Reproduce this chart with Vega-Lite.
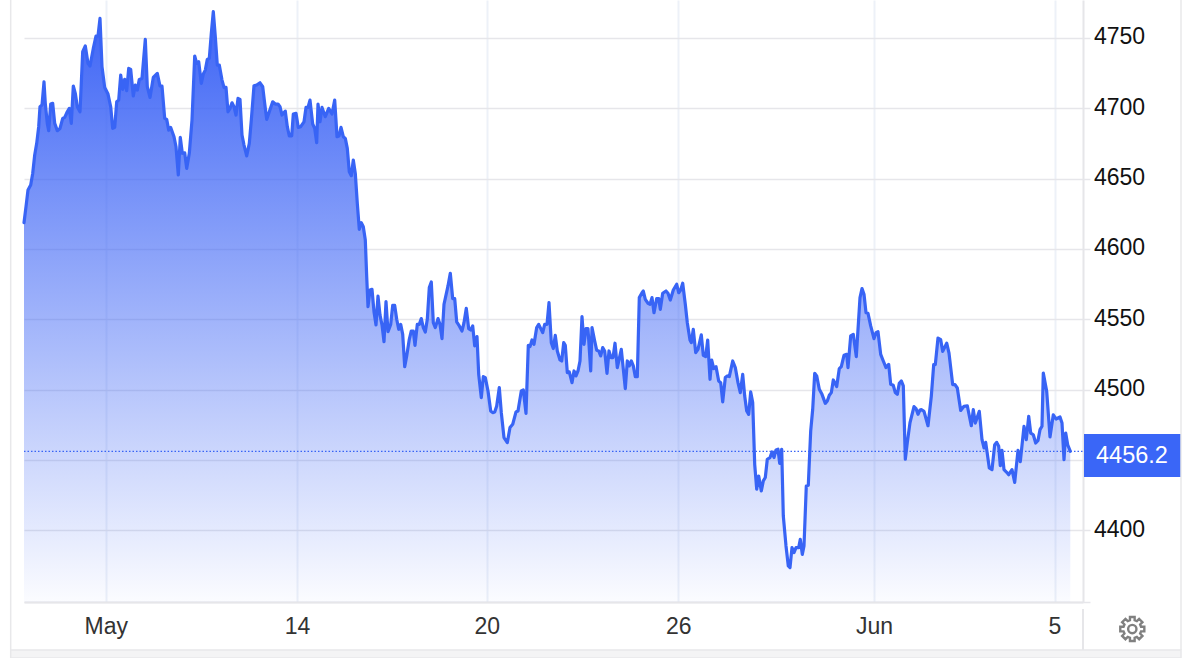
{"$schema":"https://vega.github.io/schema/vega-lite/v6.json","width":1059,"height":602,"autosize":"none","padding":{"left":24,"top":0,"right":117,"bottom":56},"background":"white","view":{"stroke":null},
"datasets":{"last":[{"price":4456.2}],"gold":[
{"t":0,"price":4618.6},{"t":2,"price":4630},{"t":4,"price":4641.8},{"t":6.7,"price":4645.4},{"t":8.7,"price":4653.6},{"t":10.7,"price":4666.7},{"t":12.7,"price":4675},{"t":14.7,"price":4686.8},{"t":16,"price":4701},{"t":18,"price":4702.2},{"t":20,"price":4718.7},{"t":21.3,"price":4703.4},{"t":23.3,"price":4689.2},{"t":24.7,"price":4684},{"t":26.7,"price":4702.9},{"t":28.7,"price":4703.4},{"t":30.7,"price":4689.2},{"t":33.3,"price":4684},{"t":36,"price":4685.6},{"t":38.7,"price":4692.7},{"t":40.7,"price":4693.4},{"t":43.3,"price":4697.4},{"t":45.3,"price":4699.8},{"t":47.3,"price":4689.2},{"t":49.3,"price":4715.7},{"t":51.3,"price":4710.5},{"t":53.3,"price":4701},{"t":56,"price":4697.4},{"t":58.7,"price":4740.1},{"t":61.3,"price":4744.1},{"t":64,"price":4731.8},{"t":66,"price":4729.9},{"t":69.3,"price":4742.4},{"t":72,"price":4751.2},{"t":74,"price":4751.2},{"t":76,"price":4763.7},{"t":78,"price":4729.4},{"t":80.7,"price":4714.7},{"t":84,"price":4710},{"t":86.7,"price":4701},{"t":88.7,"price":4685.6},{"t":90.7,"price":4686.3},{"t":92.7,"price":4704.5},{"t":94.7,"price":4705.7},{"t":96.7,"price":4723.5},{"t":98.7,"price":4713.3},{"t":100.7,"price":4720.4},{"t":102.7,"price":4712.4},{"t":104.7,"price":4728.2},{"t":106.7,"price":4727.5},{"t":109.3,"price":4708.6},{"t":111.3,"price":4716.4},{"t":113.3,"price":4712.8},{"t":115.3,"price":4720.4},{"t":118,"price":4721.1},{"t":121.3,"price":4748.8},{"t":123.3,"price":4715.2},{"t":126,"price":4707.6},{"t":129.3,"price":4721.8},{"t":133.3,"price":4724.7},{"t":136,"price":4715.7},{"t":138,"price":4715.7},{"t":140.7,"price":4692.7},{"t":142.7,"price":4692},{"t":144.7,"price":4684.4},{"t":146.7,"price":4686.3},{"t":150,"price":4679.7},{"t":152,"price":4672.6},{"t":154.3,"price":4652.5},{"t":156.3,"price":4679.2},{"t":158.3,"price":4667.9},{"t":160.7,"price":4668.3},{"t":162.7,"price":4657.2},{"t":165.3,"price":4667.9},{"t":168,"price":4691.5},{"t":170.7,"price":4737},{"t":172.7,"price":4731.8},{"t":174.7,"price":4733},{"t":177.3,"price":4717.6},
{"t":179.3,"price":4724.2},{"t":181.3,"price":4727},{"t":183.3,"price":4734.6},{"t":185.3,"price":4735.3},{"t":187.3,"price":4753.1},{"t":189.3,"price":4768.5},{"t":191.3,"price":4750.7},{"t":193.3,"price":4730.6},{"t":195.3,"price":4730.6},{"t":198,"price":4719.9},{"t":200,"price":4714.7},{"t":202,"price":4714.7},{"t":204,"price":4697.4},{"t":206,"price":4699.8},{"t":208,"price":4703.8},{"t":210,"price":4701},{"t":212,"price":4695.1},{"t":214,"price":4706.9},{"t":216,"price":4706.2},{"t":218,"price":4680.9},{"t":220,"price":4673.8},{"t":222.7,"price":4666},{"t":225.3,"price":4675},{"t":227.3,"price":4691.5},{"t":230,"price":4715.9},{"t":232.7,"price":4716.4},{"t":236,"price":4718},{"t":238.7,"price":4715.2},{"t":240.7,"price":4703.4},{"t":242.7,"price":4692},{"t":245.3,"price":4697.4},{"t":248.7,"price":4704.5},{"t":251.3,"price":4702.9},{"t":254,"price":4702.9},{"t":256,"price":4701},{"t":258,"price":4695.1},{"t":261.3,"price":4697.9},{"t":263.3,"price":4686.8},{"t":265.3,"price":4680.2},{"t":267.7,"price":4680.2},{"t":269.3,"price":4695.8},{"t":272,"price":4696.3},{"t":274.3,"price":4686.3},{"t":276.7,"price":4686.8},{"t":280,"price":4690.3},{"t":282,"price":4700.5},{"t":284,"price":4700.5},{"t":286,"price":4705.7},{"t":288.7,"price":4688.7},{"t":290.7,"price":4685.6},{"t":292.7,"price":4675.4},{"t":294,"price":4702.9},{"t":296,"price":4690.3},{"t":298,"price":4700.5},{"t":301.3,"price":4693.9},{"t":304.7,"price":4699.8},{"t":308,"price":4695.8},{"t":310.7,"price":4705.7},{"t":313,"price":4679.7},{"t":315,"price":4680.2},{"t":317,"price":4686.3},{"t":319.3,"price":4679.7},{"t":321.3,"price":4678.5},{"t":323.3,"price":4671.4},{"t":325.3,"price":4654.8},{"t":327.3,"price":4652},{"t":329.3,"price":4663.1},{"t":331.3,"price":4653.6},{"t":333.3,"price":4632.3},{"t":335.3,"price":4613.9},{"t":337.3,"price":4618.6},{"t":339.3,"price":4615.8},{"t":341.3,"price":4606.3},{"t":342.7,"price":4580.3},{"t":344,"price":4559},{"t":346,"price":4570.8},{"t":348,"price":4571.3},{"t":350,"price":4555.4},{"t":352,"price":4546},{"t":354,"price":4566.5},{"t":356,"price":4553},{"t":358,"price":4546},{"t":360,"price":4534.1},{"t":362,"price":4562.5},{"t":364,"price":4541.2},
{"t":366.7,"price":4546.4},{"t":368.7,"price":4559.9},{"t":370.7,"price":4559.9},{"t":372.7,"price":4550},{"t":374.7,"price":4542.9},{"t":376.7,"price":4546.4},{"t":378.7,"price":4539.3},{"t":380.7,"price":4516.4},{"t":382.7,"price":4524},{"t":385.3,"price":4535.8},{"t":387.3,"price":4541.7},{"t":389.3,"price":4541.7},{"t":391,"price":4531.5},{"t":393.3,"price":4546.4},{"t":395.3,"price":4546.4},{"t":397.3,"price":4550.5},{"t":399.3,"price":4544.1},{"t":401.3,"price":4541},{"t":403.3,"price":4550},{"t":405.3,"price":4572.5},{"t":407.3,"price":4576.5},{"t":409.3,"price":4547.6},{"t":411.3,"price":4544.1},{"t":414,"price":4550.5},{"t":416,"price":4546.4},{"t":418,"price":4536.3},{"t":420,"price":4560.7},{"t":424,"price":4573.7},{"t":426.3,"price":4582.7},{"t":428.7,"price":4564.7},{"t":430.7,"price":4564.7},{"t":432.7,"price":4548.1},{"t":435.3,"price":4545.3},{"t":438,"price":4541.7},{"t":440,"price":4547.6},{"t":442.3,"price":4557.8},{"t":444.7,"price":4543.4},{"t":446.7,"price":4542.4},{"t":448.7,"price":4545.3},{"t":450.7,"price":4531.1},{"t":453,"price":4537.7},{"t":454.7,"price":4510.9},{"t":457.3,"price":4494.4},{"t":459.3,"price":4509.3},{"t":461.3,"price":4508.6},{"t":464,"price":4499.1},{"t":466.7,"price":4484.9},{"t":468.7,"price":4483.7},{"t":470.7,"price":4484.2},{"t":472.7,"price":4488.4},{"t":475.3,"price":4501.5},{"t":477.3,"price":4483.7},{"t":480,"price":4466},{"t":483.3,"price":4462.4},{"t":486,"price":4473.1},{"t":488.7,"price":4475.4},{"t":492,"price":4484.2},{"t":494,"price":4484.9},{"t":497.3,"price":4499.1},{"t":499.3,"price":4499.8},{"t":502,"price":4483.2},{"t":504.3,"price":4531.5},{"t":506,"price":4530.6},{"t":508,"price":4535.3},{"t":510,"price":4532.2},{"t":512.7,"price":4544.1},{"t":514.7,"price":4546.4},{"t":518.7,"price":4540.5},{"t":520.7,"price":4546.4},{"t":523,"price":4546.4},{"t":525,"price":4561.8},{"t":527.3,"price":4533.4},{"t":529.3,"price":4529.2},{"t":531.3,"price":4538.6},{"t":533.3,"price":4527.5},{"t":536,"price":4521.1},{"t":537.7,"price":4520.4},{"t":539.7,"price":4533.4},{"t":541.3,"price":4531.5},
{"t":543.3,"price":4512.1},{"t":545.3,"price":4512.6},{"t":548,"price":4505},{"t":550,"price":4513.3},{"t":552,"price":4509.8},{"t":554,"price":4513.3},{"t":556,"price":4520.4},{"t":558,"price":4551.9},{"t":560,"price":4532.2},{"t":562,"price":4543.4},{"t":564,"price":4543.4},{"t":566.7,"price":4513.3},{"t":568,"price":4544.1},{"t":570.7,"price":4534.6},{"t":572.7,"price":4528},{"t":574.7,"price":4527.5},{"t":576.7,"price":4524},{"t":578.7,"price":4529.9},{"t":580.7,"price":4527.5},{"t":583,"price":4511.6},{"t":585,"price":4527.5},{"t":587,"price":4522.8},{"t":589,"price":4522.8},{"t":591,"price":4533},{"t":593.3,"price":4515.7},{"t":597.3,"price":4528.7},{"t":601.3,"price":4500.8},{"t":603.3,"price":4520.4},{"t":605.3,"price":4516.9},{"t":607.3,"price":4520.4},{"t":609.3,"price":4516.9},{"t":611.3,"price":4509.3},{"t":613.3,"price":4509.3},{"t":615.3,"price":4565.4},{"t":618,"price":4568.9},{"t":619.3,"price":4570.1},{"t":621.3,"price":4564.2},{"t":624,"price":4561.4},{"t":626,"price":4560.7},{"t":628,"price":4565.4},{"t":630,"price":4554.7},{"t":632.7,"price":4564.7},{"t":634.7,"price":4564.7},{"t":636.3,"price":4557.1},{"t":638.7,"price":4568.5},{"t":642,"price":4570.1},{"t":644,"price":4568.5},{"t":646.3,"price":4563.7},{"t":649.3,"price":4570.8},{"t":652.7,"price":4574.9},{"t":654.7,"price":4568.9},{"t":656.7,"price":4570.8},{"t":658.7,"price":4575.6},{"t":661.3,"price":4560.7},{"t":663.3,"price":4547.6},{"t":666,"price":4535.3},{"t":667.3,"price":4533.4},{"t":669.3,"price":4542.9},{"t":671.7,"price":4526.3},{"t":674,"price":4528.7},{"t":677.3,"price":4538.9},{"t":679.3,"price":4524.4},{"t":681.7,"price":4523.5},{"t":683.7,"price":4535.3},{"t":686,"price":4507.4},{"t":687.7,"price":4521.1},{"t":689.7,"price":4515},{"t":692,"price":4516.4},{"t":694.7,"price":4506.2},{"t":696.7,"price":4505},{"t":698.7,"price":4491.3},{"t":701.3,"price":4508.6},{"t":703.3,"price":4509.8},{"t":705.3,"price":4509.3},{"t":708.7,"price":4520.4},{"t":711.3,"price":4515.7},{"t":714,"price":4505},{"t":716.3,"price":4497.9},{"t":718.7,"price":4510.9},
{"t":720.7,"price":4495.5},{"t":722.7,"price":4484.9},{"t":724.7,"price":4482.5},{"t":726.7,"price":4498.4},{"t":728.7,"price":4490.8},{"t":730.7,"price":4447},{"t":732.7,"price":4429.3},{"t":734.7,"price":4438.7},{"t":737.3,"price":4428.1},{"t":739.3,"price":4435.2},{"t":741.3,"price":4437.6},{"t":743.3,"price":4450.6},{"t":746,"price":4451.8},{"t":748,"price":4455.8},{"t":750,"price":4451.8},{"t":752,"price":4457.2},{"t":754,"price":4457.7},{"t":755.7,"price":4447.7},{"t":757.7,"price":4457.7},{"t":759.3,"price":4410.3},{"t":762,"price":4389},{"t":764.3,"price":4374.8},{"t":766,"price":4373.6},{"t":768,"price":4387.8},{"t":770,"price":4384.3},{"t":772,"price":4387.8},{"t":774.7,"price":4387.8},{"t":776.3,"price":4393.7},{"t":778.3,"price":4383},{"t":780,"price":4389},{"t":782.3,"price":4431.6},{"t":784.3,"price":4432.1},{"t":786.7,"price":4470.7},{"t":788.7,"price":4486.1},{"t":790.7,"price":4511.6},{"t":792.7,"price":4509.8},{"t":795.3,"price":4500.3},{"t":798,"price":4496.7},{"t":801.3,"price":4490.3},{"t":803.3,"price":4492},{"t":805.3,"price":4496},{"t":807.3,"price":4497.9},{"t":809.3,"price":4506.9},{"t":812.7,"price":4502.2},{"t":815.3,"price":4515},{"t":817.3,"price":4516.4},{"t":820,"price":4524.4},{"t":822.7,"price":4525.1},{"t":824,"price":4515.7},{"t":826.7,"price":4538.2},{"t":829.3,"price":4539.3},{"t":832.3,"price":4523.5},{"t":836,"price":4565.4},{"t":838,"price":4571.8},{"t":840,"price":4567.8},{"t":842,"price":4554.7},{"t":844,"price":4554.3},{"t":846.7,"price":4545.3},{"t":850,"price":4536.3},{"t":852,"price":4540.5},{"t":854,"price":4541.2},{"t":856.7,"price":4525.1},{"t":859.3,"price":4520.4},{"t":862,"price":4515.7},{"t":864.7,"price":4518},{"t":866.7,"price":4503.8},{"t":869.3,"price":4503.1},{"t":871.3,"price":4497.9},{"t":873.3,"price":4496.7},{"t":875.3,"price":4504.5},{"t":877.3,"price":4506.2},{"t":879.3,"price":4502.7},{"t":881.3,"price":4450.6},{"t":883.3,"price":4462.4},{"t":886,"price":4476.6},{"t":890,"price":4488},{"t":892,"price":4486.6},{"t":894,"price":4482.5},{"t":896,"price":4485.6},
{"t":897.3,"price":4485.8},{"t":900,"price":4484.6},{"t":904,"price":4474.4},{"t":907.3,"price":4495.3},{"t":909.7,"price":4517.8},{"t":911.3,"price":4517.8},{"t":914,"price":4536.7},{"t":916.7,"price":4535.5},{"t":918.7,"price":4527.2},{"t":922.7,"price":4533.1},{"t":925,"price":4526},{"t":928.7,"price":4503.6},{"t":931,"price":4503.6},{"t":933.3,"price":4501.2},{"t":936.7,"price":4485.3},{"t":940,"price":4488.2},{"t":943.3,"price":4488.6},{"t":947.3,"price":4474.4},{"t":949.3,"price":4485.8},{"t":951.3,"price":4476.3},{"t":955.3,"price":4484.6},{"t":958,"price":4464.5},{"t":960,"price":4458.6},{"t":961.7,"price":4462.6},{"t":965.3,"price":4444.4},{"t":968,"price":4443.2},{"t":970.7,"price":4460.9},{"t":972.7,"price":4462.6},{"t":974.7,"price":4459.8},{"t":976.3,"price":4446},{"t":978,"price":4456.9},{"t":980,"price":4443.2},{"t":982.7,"price":4441.3},{"t":984.7,"price":4439.6},{"t":988,"price":4443.2},{"t":990.7,"price":4434.2},{"t":994,"price":4456.9},{"t":996.3,"price":4448.9},{"t":1000,"price":4474},{"t":1002.3,"price":4464.5},{"t":1004.7,"price":4481.1},{"t":1006.7,"price":4469.2},{"t":1009.3,"price":4468},{"t":1011.7,"price":4462.1},{"t":1014,"price":4464},{"t":1016,"price":4471.6},{"t":1018,"price":4474},{"t":1019.3,"price":4511.8},{"t":1022.7,"price":4498.8},{"t":1026,"price":4466.4},{"t":1029.3,"price":4482.2},{"t":1032,"price":4479.2},{"t":1036,"price":4480.6},{"t":1038,"price":4476.3},{"t":1040,"price":4450.3},{"t":1041.7,"price":4469.2},{"t":1043.7,"price":4460.9},{"t":1046.3,"price":4456.2}
]},
"layer":[
{"data":{"name":"gold"},"mark":{"type":"area","interpolate":"linear","fill":{"gradient":"linear","x1":0,"y1":0,"x2":0,"y2":1,"stops":[{"offset":0,"color":"rgba(56,96,245,0.98)"},{"offset":1,"color":"rgba(60,100,246,0.02)"}]}},
"encoding":{"x":{"field":"t","type":"quantitative","title":null,"scale":{"domain":[0,1059],"nice":false,"zero":false},"axis":{"values":[81.7,273,462.7,654.3,850,1030.5],"labelExpr":"datum.value<100?'May':datum.value<300?'14':datum.value<500?'20':datum.value<700?'26':datum.value<900?'Jun':'5'","grid":true,"gridColor":"#edf1f8","gridWidth":2,"ticks":false,"domainColor":"#e6e6e9","domainWidth":2,"labelFont":"Liberation Sans","labelFontSize":23,"labelColor":"#333333","labelPadding":13,"labelOverlap":false,"labelFlush":false,"labelBound":false}},
"y":{"field":"price","type":"quantitative","title":null,"scale":{"domain":[4349.2,4776.8],"nice":false,"zero":false},"axis":{"orient":"right","values":[4349.2,4400,4450,4500,4550,4600,4650,4700,4750],"labelExpr":"(datum.value%50==0&&datum.value!=4450)?datum.value:''","format":"d","grid":true,"gridColor":"#e6e6ea","gridWidth":1.5,"tickSize":7,"tickColor":"#e6e6ea","tickWidth":1.5,"domainColor":"#e6e6e9","domainWidth":2,"labelFont":"Liberation Sans","labelFontSize":23,"labelColor":"#111111","labelPadding":3.5,"labelOffset":-1,"labelOverlap":false,"labelFlush":false,"labelBound":false}},
"y2":{"datum":4349.2}}},
{"data":{"name":"gold"},"mark":{"type":"line","color":"#3864f5","strokeWidth":3.2,"strokeJoin":"round","strokeCap":"round"},"encoding":{"x":{"field":"t","type":"quantitative"},"y":{"field":"price","type":"quantitative"}}},
{"data":{"name":"last"},"mark":{"type":"rule","color":"#3864f5","strokeWidth":1.3,"strokeDash":[1.5,2]},"encoding":{"x":{"datum":0},"x2":{"datum":1059},"y":{"field":"price","type":"quantitative"}}},
{"data":{"name":"last"},"mark":{"type":"rect","color":"#3a66f7","clip":false},"encoding":{"x":{"datum":1060},"x2":{"datum":1157},"y":{"datum":4468.5},"y2":{"datum":4438}}},
{"data":{"name":"last"},"mark":{"type":"text","color":"white","font":"Liberation Sans","fontSize":23.5,"align":"left","baseline":"middle","dy":5},"encoding":{"x":{"datum":1072},"y":{"field":"price","type":"quantitative"},"text":{"field":"price","type":"quantitative","format":".1f"}}},
{"data":{"name":"last"},"mark":{"type":"rule","color":"#e6e6e9","strokeWidth":2},"encoding":{"x":{"datum":1059},"y":{"datum":4344.3},"y2":{"datum":4315.1}}},
{"data":{"name":"last"},"mark":{"type":"rule","color":"#e8e8ea","strokeWidth":1.5},"encoding":{"x":{"datum":-13.3},"y":{"datum":4776.8},"y2":{"datum":4315.1}}},
{"data":{"name":"last"},"mark":{"type":"rule","color":"#e8e8ea","strokeWidth":1.5},"encoding":{"x":{"datum":1157},"y":{"datum":4776.8},"y2":{"datum":4315.1}}},
{"data":{"name":"last"},"mark":{"type":"rect","color":"#f4f4f5","stroke":"#e8e8ea","strokeWidth":1.5},"encoding":{"x":{"datum":-13.3},"x2":{"datum":1157},"y":{"datum":4315.1},"y2":{"datum":4309.4}}},
{"data":{"name":"last"},"mark":{"type":"point","filled":false,"stroke":"#808080","strokeWidth":2.4,"size":600,"opacity":1,"shape":"M.715,-.192L.982,-.191L.982,.191L.715,.192L.641,.37L.829,.559L.559,.829L.37,.641L.192,.715L.191,.982L-.191,.982L-.192,.715L-.37,.641L-.559,.829L-.829,.559L-.641,.37L-.715,.192L-.982,.191L-.982,-.191L-.715,-.192L-.641,-.37L-.829,-.559L-.559,-.829L-.37,-.641L-.192,-.715L-.191,-.982L.191,-.982L.192,-.715L.37,-.641L.559,-.829L.829,-.559L.641,-.37ZM.34,0A.34,.34 0 1,1 -.34,0A.34,.34 0 1,1 .34,0Z"},"encoding":{"x":{"datum":1108.3},"y":{"datum":4330}}}
]}
